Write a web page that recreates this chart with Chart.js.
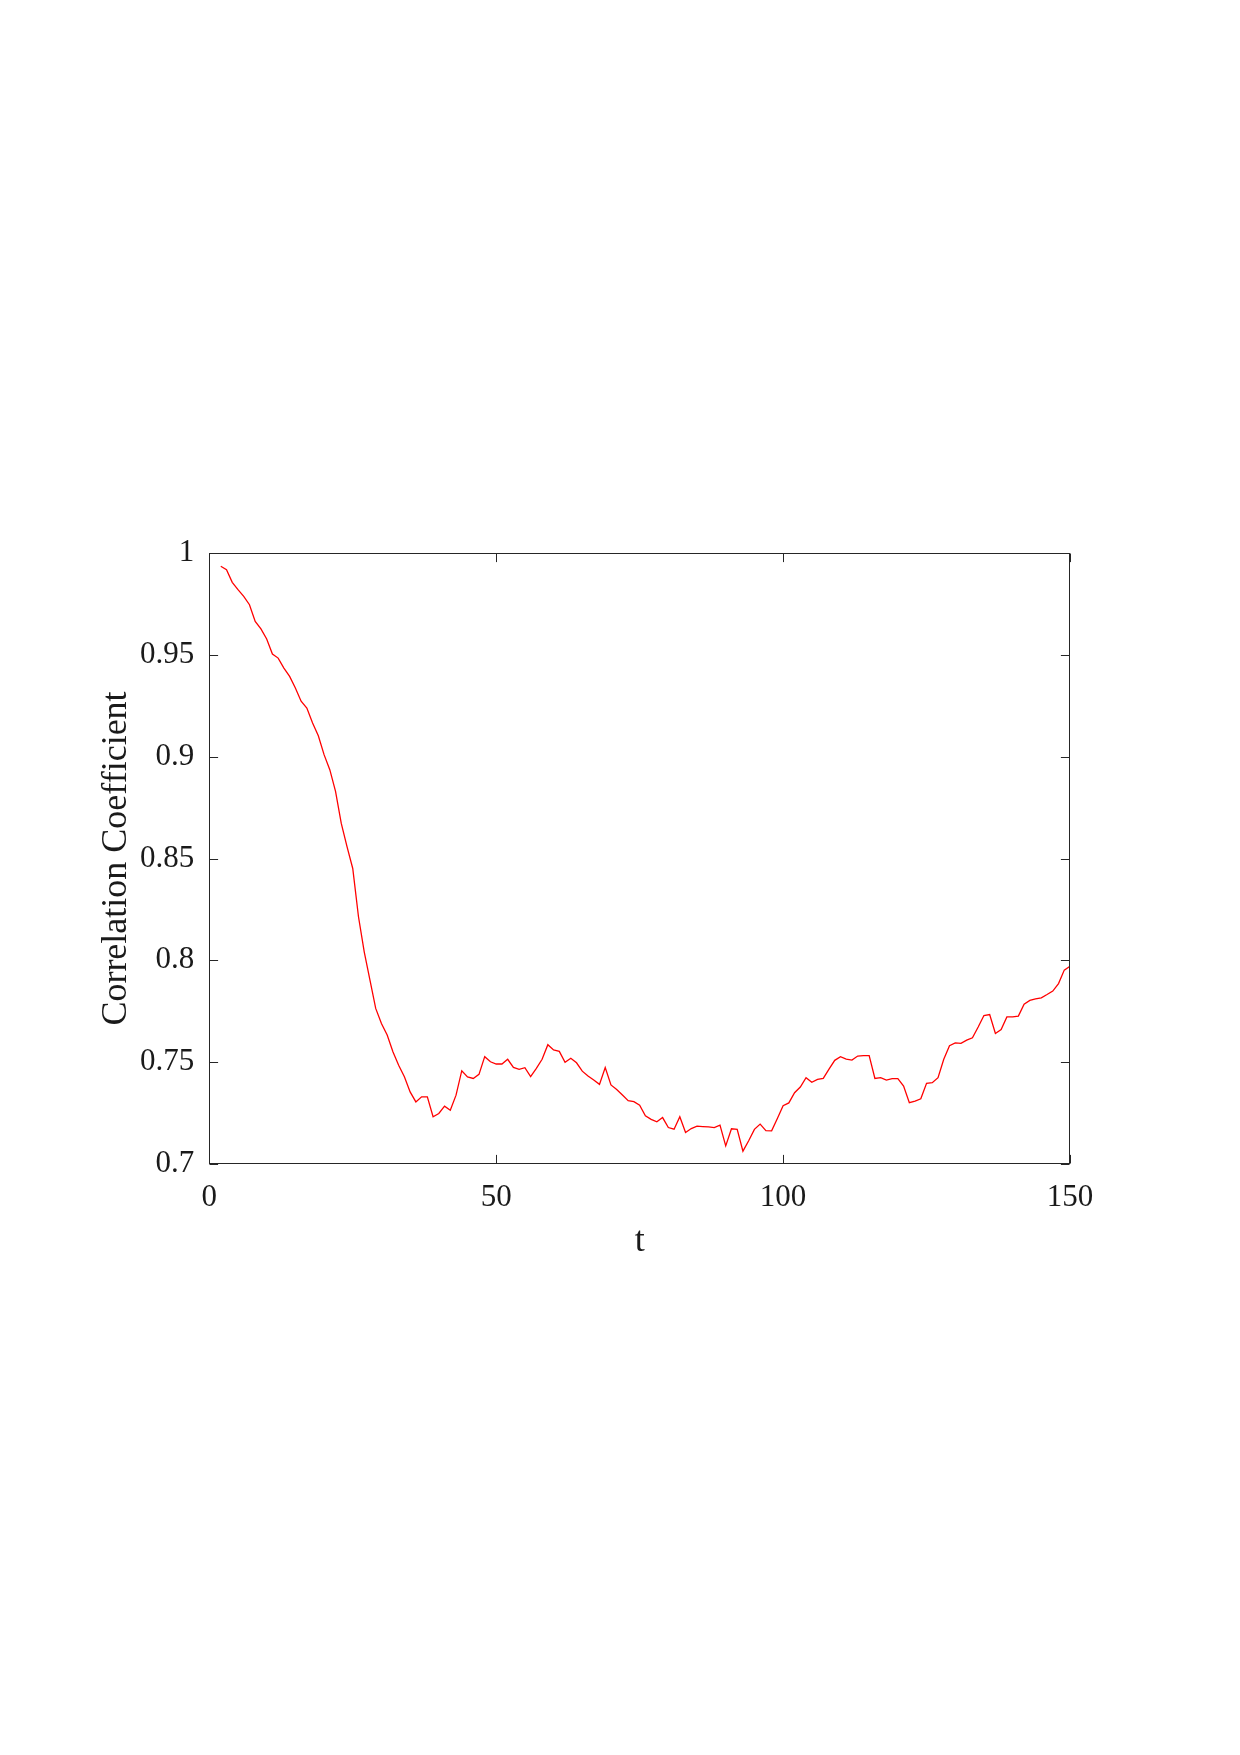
<!DOCTYPE html>
<html>
<head>
<meta charset="utf-8">
<script src="https://cdn.jsdelivr.net/npm/chart.js@4.4.1/dist/chart.umd.min.js"></script>
<style>
  html, body { margin: 0; padding: 0; background: #ffffff; }
  #wrap { width: 1240px; height: 1755px; }
</style>
</head>
<body>
<div id="wrap"><canvas id="c" width="1240" height="1755"></canvas></div>
<script>
// ---- data ----
const tValues = [
  2, 3, 4, 5, 6, 7, 8, 9, 10, 11, 12, 13, 14, 15, 16, 17, 18, 19, 20, 21,
  22, 23, 24, 25, 26, 27, 28, 29, 30, 31, 32, 33, 34, 35, 36, 37, 38, 39, 40, 41,
  42, 43, 44, 45, 46, 47, 48, 49, 50, 51, 52, 53, 54, 55, 56, 57, 58, 59, 60, 61,
  62, 63, 64, 65, 66, 67, 68, 69, 70, 71, 72, 73, 74, 75, 76, 77, 78, 79, 80, 81,
  82, 83, 84, 85, 86, 87, 88, 89, 90, 91, 92, 93, 94, 95, 96, 97, 98, 99, 100, 101,
  102, 103, 104, 105, 106, 107, 108, 109, 110, 111, 112, 113, 114, 115, 116, 117, 118, 119, 120, 121,
  122, 123, 124, 125, 126, 127, 128, 129, 130, 131, 132, 133, 134, 135, 136, 137, 138, 139, 140, 141,
  142, 143, 144, 145, 146, 147, 148, 149, 150
];
const corrValues = [
  0.9935, 0.9918, 0.9856, 0.9820, 0.9787, 0.9746, 0.9664, 0.9627, 0.9578, 0.9504,
  0.9484, 0.9435, 0.9394, 0.9337, 0.9272, 0.9239, 0.9165, 0.9103, 0.9010, 0.8936,
  0.8830, 0.8672, 0.8558, 0.8451, 0.8214, 0.8042, 0.7903, 0.7764, 0.7690, 0.7633,
  0.7551, 0.7485, 0.7428, 0.7354, 0.7305, 0.7330, 0.7330, 0.7232, 0.7248, 0.7284,
  0.7264, 0.7338, 0.7458, 0.7428, 0.7420, 0.7440, 0.7527, 0.7502, 0.7491, 0.7491,
  0.7514, 0.7474, 0.7465, 0.7473, 0.7429, 0.7470, 0.7514, 0.7586, 0.7560, 0.7553,
  0.7499, 0.7519, 0.7497, 0.7456, 0.7432, 0.7412, 0.7391, 0.7474, 0.7388, 0.7366,
  0.7339, 0.7311, 0.7306, 0.7289, 0.7237, 0.7219, 0.7207, 0.7228, 0.7179, 0.7171,
  0.7232, 0.7155, 0.7174, 0.7186, 0.7184, 0.7182, 0.7179, 0.7191, 0.7089, 0.7173,
  0.7170, 0.7063, 0.7114, 0.7170, 0.7196, 0.7164, 0.7163, 0.7223, 0.7286, 0.7300,
  0.7350, 0.7378, 0.7424, 0.7401, 0.7415, 0.7420, 0.7466, 0.7509, 0.7527, 0.7515,
  0.7510, 0.7530, 0.7532, 0.7532, 0.7420, 0.7424, 0.7412, 0.7419, 0.7419, 0.7383,
  0.7301, 0.7309, 0.7320, 0.7396, 0.7399, 0.7424, 0.7514, 0.7581, 0.7595, 0.7592,
  0.7608, 0.7620, 0.7673, 0.7729, 0.7734, 0.7641, 0.7660, 0.7722, 0.7722, 0.7726,
  0.7785, 0.7803, 0.7811, 0.7816, 0.7832, 0.7849, 0.7886, 0.7952, 0.7971
];
const xTickValues = [0, 50, 100, 150];
const yTickLabels = ['0.7', '0.75', '0.8', '0.85', '0.9', '0.95', '1'];
const xAxisTitle = 't';
const yAxisTitle = 'Correlation Coefficient';

// ---- styling ----
const FONT = "'Liberation Serif', 'Times New Roman', Times, serif";
const TEXT = '#1a1a1a';
const AXIS = '#262626';
const TICK_LEN = 8.6;

const framePlugin = {
  id: 'frame',
  afterDatasetsDraw(chart) {
    const { ctx, chartArea: a, scales } = chart;
    ctx.save();
    ctx.strokeStyle = AXIS;
    ctx.lineWidth = 1;
    const L = Math.round(a.left) + 0.5, R = Math.round(a.right) - 0.5;
    const T = Math.round(a.top) + 0.5, B = Math.round(a.bottom) - 0.5;
    ctx.strokeRect(L, T, R - L, B - T);
    ctx.beginPath();
    scales.x.ticks.forEach(tk => {
      const px = Math.round(scales.x.getPixelForValue(tk.value)) + 0.5;
      ctx.moveTo(px, B); ctx.lineTo(px, B - TICK_LEN);
      ctx.moveTo(px, T); ctx.lineTo(px, T + TICK_LEN);
    });
    scales.y.ticks.forEach(tk => {
      const py = Math.round(scales.y.getPixelForValue(tk.value)) + 0.5;
      ctx.moveTo(L, py); ctx.lineTo(L + TICK_LEN, py);
      ctx.moveTo(R, py); ctx.lineTo(R - TICK_LEN, py);
    });
    ctx.stroke();
    ctx.restore();
  }
};

new Chart(document.getElementById('c'), {
  type: 'line',
  data: {
    datasets: [{
      data: tValues.map((t, i) => ({ x: t, y: corrValues[i] })),
      borderColor: '#ff0000',
      borderWidth: 1.3,
      pointRadius: 0,
      tension: 0,
      fill: false
    }]
  },
  options: {
    responsive: false,
    animation: false,
    devicePixelRatio: 1,
    layout: { padding: { left: 88, right: 170, top: 553, bottom: 491 } },
    plugins: { legend: { display: false }, tooltip: { enabled: false } },
    scales: {
      x: {
        type: 'linear', min: 0, max: 150,
        afterBuildTicks: s => { s.ticks = xTickValues.map(v => ({ value: v })); },
        ticks: { font: { family: FONT, size: 31 }, color: TEXT, padding: 15, maxRotation: 0,
                 callback: v => String(v) },
        grid: { display: false, drawTicks: false }, border: { display: false },
        title: { display: true, text: xAxisTitle, color: TEXT,
                 font: { family: FONT, size: 36 }, padding: { top: 0, bottom: 1 } },
        afterFit: s => { s.height = 100; }
      },
      y: {
        type: 'linear', min: 0.7, max: 1,
        afterBuildTicks: s => { s.ticks = yTickLabels.map(l => ({ value: parseFloat(l) })); },
        ticks: { font: { family: FONT, size: 31 }, color: TEXT, padding: 15,
                 callback: (v, i) => yTickLabels[i] },
        grid: { display: false, drawTicks: false }, border: { display: false },
        title: { display: true, text: yAxisTitle, color: TEXT,
                 font: { family: FONT, size: 36 }, padding: { top: 7, bottom: 0 } },
        afterFit: s => { s.width = 121.3; }
      }
    }
  },
  plugins: [framePlugin]
});
</script>
</body>
</html>
